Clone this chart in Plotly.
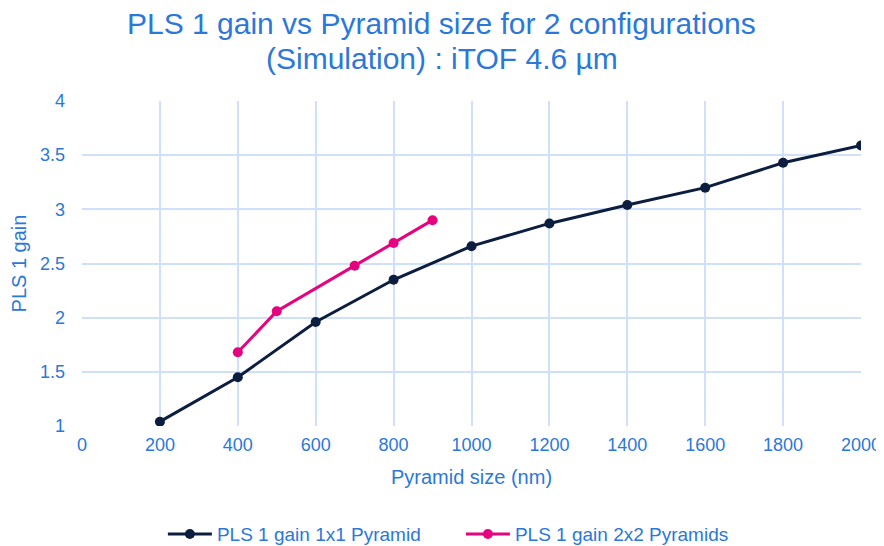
import plotly.graph_objects as go

# PLS 1 gain vs pyramid size, two pyramid configurations
size_1x1 = [200, 400, 600, 800, 1000, 1200, 1400, 1600, 1800, 2000]
gain_1x1 = [1.04, 1.45, 1.96, 2.35, 2.66, 2.87, 3.04, 3.20, 3.43, 3.59]

size_2x2 = [400, 500, 700, 800, 900]
gain_2x2 = [1.68, 2.06, 2.48, 2.69, 2.90]

x_ticks = [0, 200, 400, 600, 800, 1000, 1200, 1400, 1600, 1800, 2000]
y_ticks = [1, 1.5, 2, 2.5, 3, 3.5, 4]

title_lines = ["PLS 1 gain vs Pyramid size for 2 configurations",
               "(Simulation) : iTOF 4.6 µm"]

BLUE_TEXT = "#2b78d9"
GRID = "#cfe1fa"
NAVY = "#0c1e3f"
PINK = "#e6037f"
FONT = "Liberation Sans, Arial, sans-serif"

fig = go.Figure()
fig.add_trace(go.Scatter(
    x=size_1x1, y=gain_1x1, mode="lines+markers",
    name="PLS 1 gain 1x1 Pyramid",
    line=dict(color=NAVY, width=3),
    marker=dict(color=NAVY, size=10),
))
fig.add_trace(go.Scatter(
    x=size_2x2, y=gain_2x2, mode="lines+markers",
    name="PLS 1 gain 2x2 Pyramids",
    line=dict(color=PINK, width=3),
    marker=dict(color=PINK, size=10),
))

# two-line title, centred on the page rather than the plot area
for text, ypos in zip(title_lines, [1.24, 1.132]):
    fig.add_annotation(
        text=text, xref="paper", yref="paper", x=0.462, y=ypos,
        xanchor="center", yanchor="middle", showarrow=False,
        font=dict(size=30, color=BLUE_TEXT, family=FONT),
    )

# the page body has an 8px margin, so the figure is 8px smaller each way
fig.update_layout(
    width=876, height=538,
    margin=dict(l=74, r=23, t=93, b=120),
    paper_bgcolor="white", plot_bgcolor="white",
    font=dict(family=FONT, color=BLUE_TEXT),
    xaxis=dict(
        range=[0, 2000], tickvals=x_ticks, showgrid=True, gridcolor=GRID, gridwidth=1.5,
        zeroline=False, showline=False, ticks="", automargin=False,
        tickfont=dict(size=18, color=BLUE_TEXT), ticklabelstandoff=6,
        title=dict(text="Pyramid size (nm)", font=dict(size=20, color=BLUE_TEXT)),
    ),
    yaxis=dict(
        range=[1, 4], tickvals=y_ticks, showgrid=True, gridcolor=GRID, gridwidth=1.5,
        zeroline=False, showline=False, ticks="", automargin=False,
        tickfont=dict(size=18, color=BLUE_TEXT), ticklabelstandoff=16,
        title=dict(text="PLS 1 gain", font=dict(size=20, color=BLUE_TEXT)),
    ),
    legend=dict(
        orientation="h", yref="container", xref="container",
        x=0.517, xanchor="center", y=0.022, yanchor="middle",
        font=dict(size=19, color=BLUE_TEXT), itemwidth=44,
        entrywidth=239, entrywidthmode="pixels",
    ),
)

fig.write_html("out.html")
